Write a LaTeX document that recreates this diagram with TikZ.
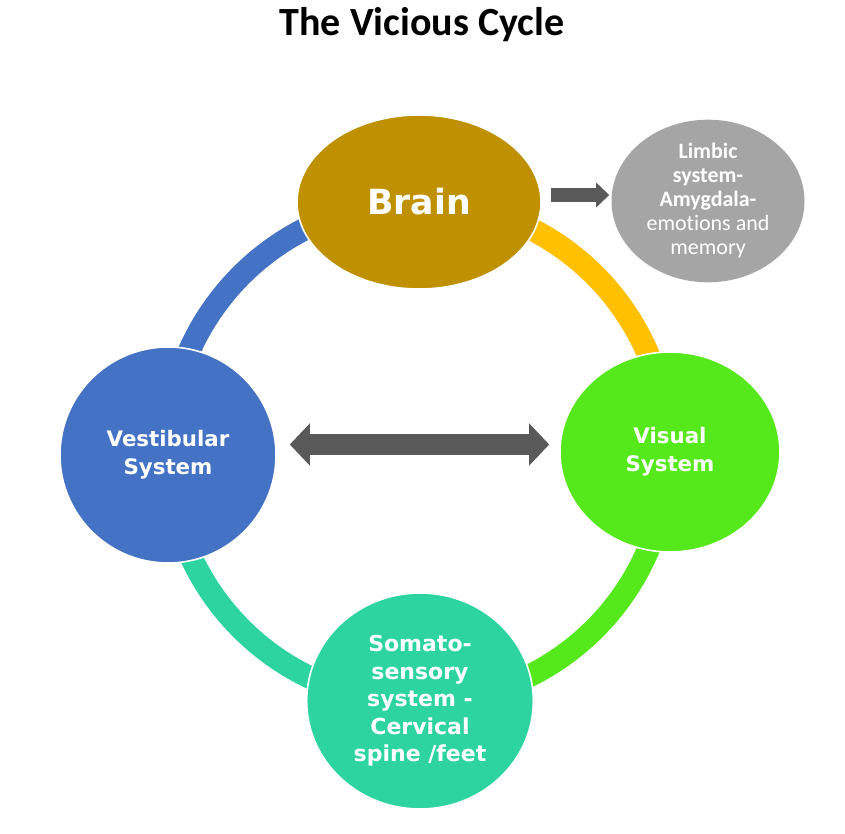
\documentclass[tikz,border=0pt]{standalone}
\usepackage{fontspec}
\setmainfont{Carlito}[Ligatures=CommonOff]
\newfontfamily\heavysans{DejaVu Sans}
\usetikzlibrary{shapes.geometric,arrows.meta}

\definecolor{brainc}{HTML}{BF9000}
\definecolor{limbicc}{HTML}{A5A5A5}
\definecolor{vestc}{HTML}{4472C4}
\definecolor{visualc}{HTML}{55E81A}
\definecolor{somatoc}{HTML}{2DD4A0}
\definecolor{ringorange}{HTML}{FFC000}
\definecolor{arrowc}{HTML}{595959}

\begin{document}
\begin{tikzpicture}[x=0.75pt,y=0.75pt]
        \tikzstyle{ring}=[line width=17pt]
        \tikzstyle{hub}=[ellipse,draw=white,line width=1.2pt,inner sep=0,text=white,align=center,font=\heavysans\bfseries\fontsize{16}{21}\selectfont]
        \tikzstyle{big block}=[arrowc,line width=15.75pt,{Triangle[length=15pt,width=30.75pt]}-{Triangle[length=15pt,width=30.75pt]}]
        \tikzstyle{small block}=[arrowc,line width=10.5pt,-{Triangle[length=9.75pt,width=18pt]}]

        \fill[white] (0,0) rectangle (845,833);
        \useasboundingbox (0,0) rectangle (845,833);

        % Title
        \node(title) at (422,808){\fontsize{30}{36}\selectfont\bfseries The Vicious Cycle};

        % Coloured ring behind the nodes
        \coordinate(c) at (418,381);
        \draw[ring,vestc] ([shift={(90:250)}]c) arc (90:180:250);
        \draw[ring,ringorange] ([shift={(0:250)}]c) arc (0:90:250);
        \draw[ring,visualc] ([shift={(270:250)}]c) arc (270:360:250);
        \draw[ring,somatoc] ([shift={(180:250)}]c) arc (180:270:250);

        % Nodes on the ring
        \node(brain)[hub,fill=brainc,minimum width=183pt,minimum height=130.5pt,font=\heavysans\bfseries\fontsize{26}{30}\selectfont] at (419,631){Brain};
        \node(vest)[hub,fill=vestc,minimum width=162pt,minimum height=162pt] at (168,378){Vestibular\\System};
        \node(visual)[hub,fill=visualc,minimum width=165pt,minimum height=150pt] at (670,381){Visual\\System};
        \node(somato)[hub,fill=somatoc,minimum width=170pt,minimum height=162pt,font=\heavysans\bfseries\fontsize{16.5}{20.6}\selectfont] at (420,132){Somato-\\sensory\\system -\\Cervical\\spine /feet};

        % Side note
        \node(limbic)[ellipse,fill=limbicc,minimum width=144.75pt,minimum height=105pt,inner sep=0,text=white,align=center,font=\fontsize{16.5}{18}\selectfont] at (708,632){\textbf{Limbic}\\\textbf{system-}\\\textbf{Amygdala-}\\emotions and\\memory};

        % Block arrows
        \draw[big block] ([shift={(13,10.5)}]vest.east) -- ([shift={(-10,7.5)}]visual.west);
        \draw[small block] ([shift={(9,7)}]brain.east) -- ([shift={(-2,6)}]limbic.west);
    \end{tikzpicture}
\end{document}
